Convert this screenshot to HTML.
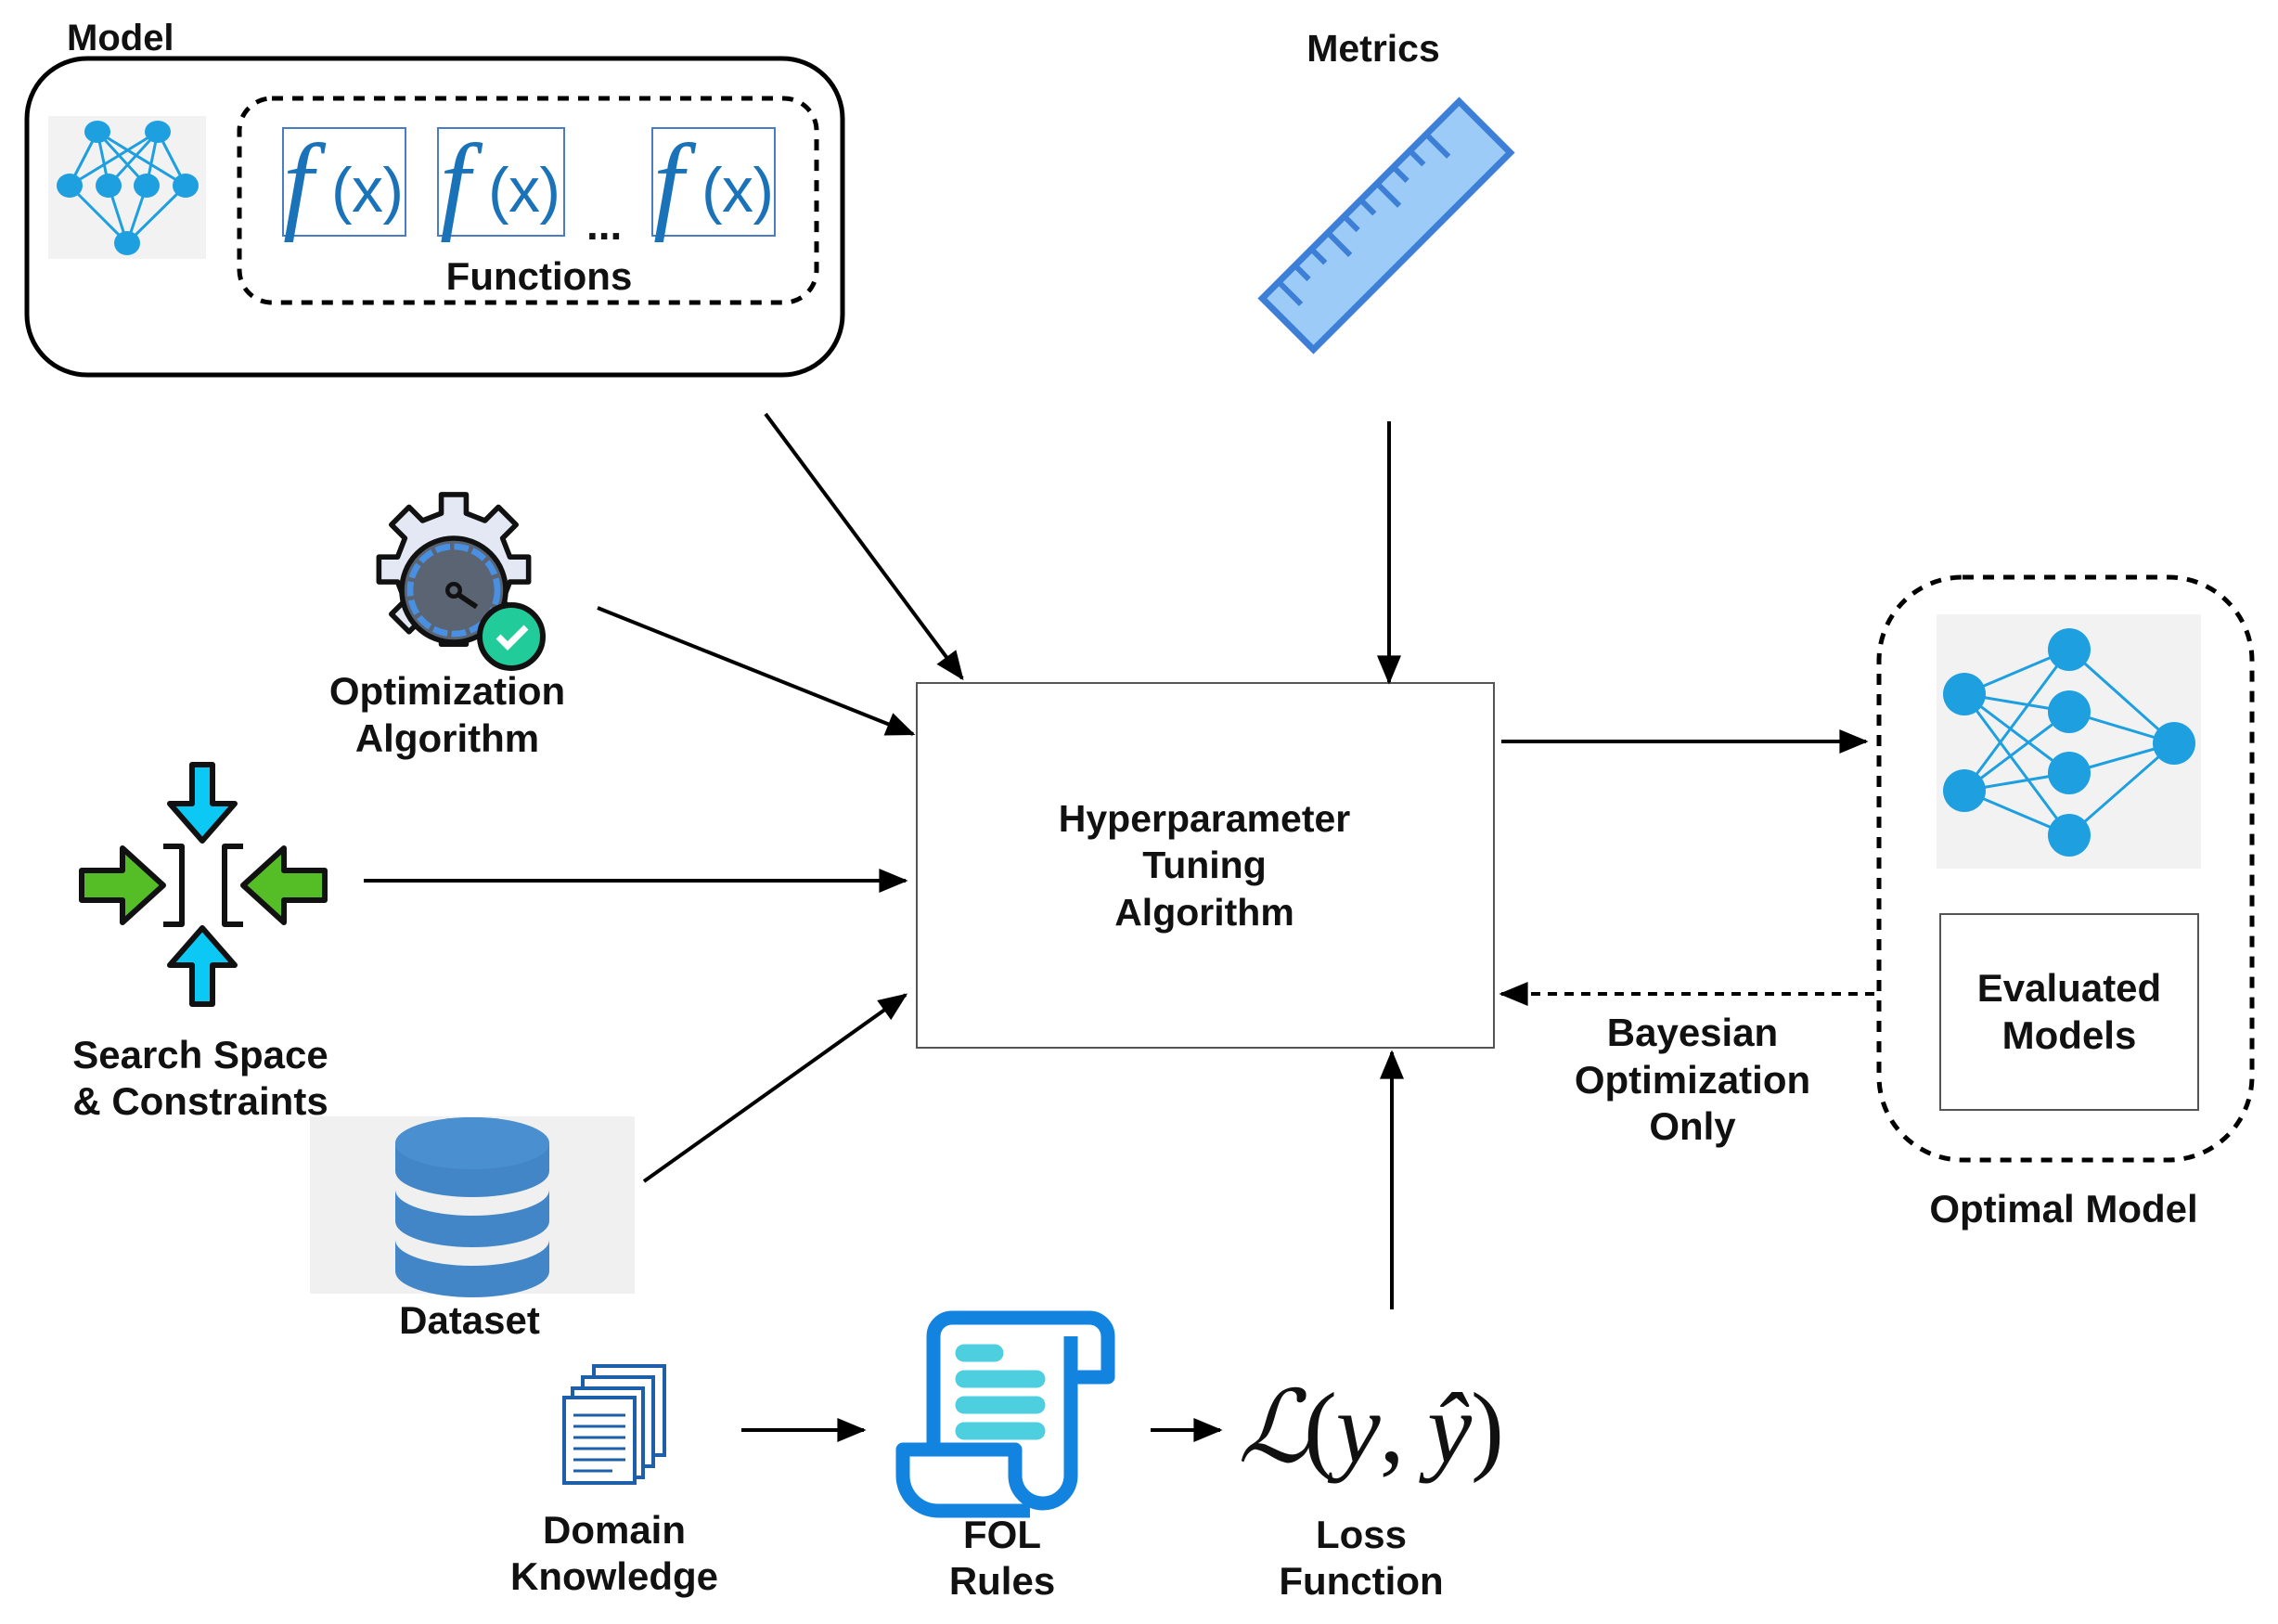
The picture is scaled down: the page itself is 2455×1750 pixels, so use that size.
<!DOCTYPE html>
<html><head><meta charset="utf-8"><style>
html,body{margin:0;padding:0;background:#fff}
svg{display:block}
text{font-family:"Liberation Sans",sans-serif;font-weight:bold;fill:#111}
</style></head><body>
<svg width="2455" height="1750" viewBox="0 0 2455 1750" xmlns="http://www.w3.org/2000/svg">
<defs>
<marker id="a" viewBox="0 0 12 10" refX="11" refY="5" markerWidth="34" markerHeight="26" markerUnits="userSpaceOnUse" orient="auto"><path d="M0,0 L12,5 L0,10 z" fill="#000"/></marker>
</defs>

<text x="72" y="54" font-size="40">Model</text>
<rect x="29" y="63" width="879" height="341" rx="65" fill="none" stroke="#000" stroke-width="5"/>
<rect x="258" y="106" width="622" height="220" rx="35" fill="none" stroke="#000" stroke-width="5" stroke-dasharray="12,10"/>
<rect x="52" y="125" width="170" height="154" fill="#f2f2f2"/>
<g stroke="#1e9fe0" stroke-width="3">
<line x1="105" y1="142" x2="75" y2="200"/><line x1="105" y1="142" x2="117" y2="200"/><line x1="105" y1="142" x2="158" y2="200"/><line x1="105" y1="142" x2="200" y2="200"/>
<line x1="170" y1="142" x2="75" y2="200"/><line x1="170" y1="142" x2="117" y2="200"/><line x1="170" y1="142" x2="158" y2="200"/><line x1="170" y1="142" x2="200" y2="200"/>
<line x1="137" y1="262" x2="75" y2="200"/><line x1="137" y1="262" x2="117" y2="200"/><line x1="137" y1="262" x2="158" y2="200"/><line x1="137" y1="262" x2="200" y2="200"/>
</g>
<g fill="#1e9fe0"><ellipse cx="105" cy="142" rx="14" ry="12"/><ellipse cx="170" cy="142" rx="14" ry="12"/>
<ellipse cx="75" cy="200" rx="14" ry="13"/><ellipse cx="117" cy="200" rx="14" ry="13"/><ellipse cx="158" cy="200" rx="14" ry="13"/><ellipse cx="200" cy="200" rx="14" ry="13"/>
<ellipse cx="137" cy="262" rx="14" ry="13"/></g>
<g fill="#fff" stroke="#4a7cc4" stroke-width="2">
<rect x="305" y="138" width="132" height="116"/><rect x="472" y="138" width="136" height="116"/><rect x="703" y="138" width="132" height="116"/></g>
<g>
<text x="305" y="236" font-size="118" style="fill:#1a72b8;font-weight:normal;font-family:'Liberation Serif',serif;font-style:italic">f</text>
<text x="357" y="228" font-size="68" style="fill:#1a72b8;font-weight:normal;font-family:'Liberation Sans',sans-serif" textLength="78">(x)</text>
<text x="474" y="236" font-size="118" style="fill:#1a72b8;font-weight:normal;font-family:'Liberation Serif',serif;font-style:italic">f</text>
<text x="526" y="228" font-size="68" style="fill:#1a72b8;font-weight:normal;font-family:'Liberation Sans',sans-serif" textLength="78">(x)</text>
<text x="704" y="236" font-size="118" style="fill:#1a72b8;font-weight:normal;font-family:'Liberation Serif',serif;font-style:italic">f</text>
<text x="756" y="228" font-size="68" style="fill:#1a72b8;font-weight:normal;font-family:'Liberation Sans',sans-serif" textLength="78">(x)</text>
</g>
<text x="632" y="258" font-size="46">...</text>
<text x="581" y="312" font-size="42" text-anchor="middle">Functions</text>

<text x="1480" y="66" font-size="41" text-anchor="middle">Metrics</text>
<g transform="translate(1494,243) rotate(-45)">
<rect x="-150" y="-39" width="300" height="78" fill="#9ccbf7" stroke="#3d7fd6" stroke-width="7"/>
<g stroke="#3d7fd6" stroke-width="6">
<line x1="-125" y1="-39" x2="-125" y2="-5"/><line x1="-100" y1="-39" x2="-100" y2="-18"/><line x1="-75" y1="-39" x2="-75" y2="-18"/><line x1="-50" y1="-39" x2="-50" y2="-5"/><line x1="-25" y1="-39" x2="-25" y2="-18"/><line x1="0" y1="-39" x2="0" y2="-18"/><line x1="25" y1="-39" x2="25" y2="-5"/><line x1="50" y1="-39" x2="50" y2="-18"/><line x1="75" y1="-39" x2="75" y2="-18"/><line x1="100" y1="-39" x2="100" y2="-5"/>
</g></g>

<rect x="988" y="736" width="622" height="393" fill="#fff" stroke="#555" stroke-width="2"/>
<text x="1298" y="896" font-size="41" text-anchor="middle">Hyperparameter</text>
<text x="1298" y="946" font-size="41" text-anchor="middle">Tuning</text>
<text x="1298" y="997" font-size="41" text-anchor="middle">Algorithm</text>

<g stroke="#000" stroke-width="4" fill="none" marker-end="url(#a)">
<line x1="825" y1="446" x2="1037" y2="731"/>
<line x1="1497" y1="454" x2="1497" y2="735"/>
<line x1="644" y1="655" x2="984" y2="791"/>
<line x1="392" y1="949" x2="976" y2="949"/>
<line x1="694" y1="1273" x2="976" y2="1072"/>
<line x1="1500" y1="1411" x2="1500" y2="1134"/>
<line x1="1618" y1="799" x2="2011" y2="799"/>
<line x1="2020" y1="1071" x2="1618" y2="1071" stroke-dasharray="10,8"/>
<line x1="799" y1="1541" x2="931" y2="1541"/>
<line x1="1240" y1="1541" x2="1315" y2="1541"/>
</g>

<rect x="2025" y="622" width="402" height="628" rx="90" fill="none" stroke="#000" stroke-width="5" stroke-dasharray="12,10"/>
<rect x="2087" y="662" width="285" height="274" fill="#f2f2f2"/>
<g stroke="#1e9fe0" stroke-width="3">
<line x1="2117" y1="748" x2="2230" y2="700"/><line x1="2117" y1="748" x2="2230" y2="767"/><line x1="2117" y1="748" x2="2230" y2="833"/><line x1="2117" y1="748" x2="2230" y2="900"/>
<line x1="2117" y1="852" x2="2230" y2="700"/><line x1="2117" y1="852" x2="2230" y2="767"/><line x1="2117" y1="852" x2="2230" y2="833"/><line x1="2117" y1="852" x2="2230" y2="900"/>
<line x1="2343" y1="801" x2="2230" y2="700"/><line x1="2343" y1="801" x2="2230" y2="767"/><line x1="2343" y1="801" x2="2230" y2="833"/><line x1="2343" y1="801" x2="2230" y2="900"/>
</g>
<g fill="#1e9fe0"><circle cx="2117" cy="748" r="23"/><circle cx="2117" cy="852" r="23"/><circle cx="2230" cy="700" r="23"/><circle cx="2230" cy="767" r="23"/><circle cx="2230" cy="833" r="23"/><circle cx="2230" cy="900" r="23"/><circle cx="2343" cy="801" r="23"/></g>
<rect x="2091" y="985" width="278" height="211" fill="#fff" stroke="#555" stroke-width="2"/>
<text x="2230" y="1079" font-size="42" text-anchor="middle">Evaluated</text>
<text x="2230" y="1130" font-size="42" text-anchor="middle">Models</text>
<text x="2224" y="1317" font-size="42" text-anchor="middle">Optimal Model</text>
<text x="1824" y="1127" font-size="42" text-anchor="middle">Bayesian</text>
<text x="1824" y="1178" font-size="42" text-anchor="middle">Optimization</text>
<text x="1824" y="1228" font-size="42" text-anchor="middle">Only</text>

<g transform="translate(489,636)">
<g transform="scale(1.12)">
<path fill="#e4e8f5" stroke="#111" stroke-width="5" stroke-linejoin="round" d="M-12,-92 h24 v18 l18,7 13,-13 17,17 -13,13 7,18 h18 v24 h-18 l-7,18 13,13 -17,17 -13,-13 -18,7 v18 h-24 v-18 l-18,-7 -13,13 -17,-17 13,-13 -7,-18 h-18 v-24 h18 l7,-18 -13,-13 17,-17 13,13 18,-7 z"/>
<circle r="50" fill="#5a6473" stroke="#111" stroke-width="5"/>
<circle r="42" fill="none" stroke="#4a90e2" stroke-width="6" stroke-dasharray="14,4"/>
<circle r="6" fill="none" stroke="#111" stroke-width="4"/>
<line x1="4" y1="4" x2="22" y2="16" stroke="#111" stroke-width="5"/>
</g>
<circle cx="62" cy="50" r="34" fill="#21cc9a" stroke="#111" stroke-width="6"/>
<path d="M48,50 l10,10 20,-20" fill="none" stroke="#fff" stroke-width="7"/>
</g>
<text x="482" y="759" font-size="42" text-anchor="middle">Optimization</text>
<text x="482" y="810" font-size="42" text-anchor="middle">Algorithm</text>

<g stroke="#111" stroke-width="6" stroke-linejoin="round">
<path d="M207,824 h22 v42 h24 l-35,40 -35,-40 h24 z" fill="#0bc8f5"/>
<path d="M207,1082 h22 v-42 h24 l-35,-40 -35,40 h24 z" fill="#0bc8f5"/>
<path d="M88,938 h44 v-24 l44,40 -44,40 v-24 h-44 z" fill="#55bd25"/>
<path d="M350,938 h-44 v-24 l-44,40 44,40 v-24 h44 z" fill="#55bd25"/>
<path d="M176,912 h20 v84 h-20 M262,912 h-20 v84 h20" fill="none"/>
</g>
<text x="216" y="1151" font-size="42" text-anchor="middle">Search Space</text>
<text x="216" y="1201" font-size="42" text-anchor="middle">&amp; Constraints</text>

<rect x="334" y="1203" width="350" height="191" fill="#f0f0f0"/>
<g fill="#4286c8">
<path d="M426,1232 a83,28 0 0 1 166,0 v30 a83,28 0 0 1 -166,0 z"/>
<path d="M426,1282 a83,28 0 0 0 166,0 v34 a83,28 0 0 1 -166,0 z"/>
<path d="M426,1336 a83,28 0 0 0 166,0 v34 a83,28 0 0 1 -166,0 z"/>
</g>
<ellipse cx="509" cy="1232" rx="83" ry="28" fill="#4a8fd0"/>
<text x="506" y="1437" font-size="42" text-anchor="middle">Dataset</text>

<g stroke="#1d5fa8" stroke-width="4" fill="#fff">
<rect x="640" y="1472" width="76" height="96"/><rect x="628" y="1484" width="76" height="96"/><rect x="617" y="1496" width="76" height="96"/><rect x="608" y="1506" width="76" height="92"/>
</g>
<g stroke="#1d5fa8" stroke-width="3"><line x1="618" y1="1525" x2="674" y2="1525"/><line x1="618" y1="1537" x2="674" y2="1537"/><line x1="618" y1="1549" x2="674" y2="1549"/><line x1="618" y1="1561" x2="674" y2="1561"/><line x1="618" y1="1573" x2="674" y2="1573"/><line x1="618" y1="1585" x2="660" y2="1585"/></g>
<text x="662" y="1663" font-size="42" text-anchor="middle">Domain</text>
<text x="662" y="1713" font-size="42" text-anchor="middle">Knowledge</text>

<g fill="none" stroke="#1383e0" stroke-width="15" stroke-linejoin="round">
<path d="M1006,1562 V1440 a20,20 0 0 1 20,-20 H1174 a20,20 0 0 1 20,20 v44 h-40"/>
<path d="M1154,1440 V1590 a30,30 0 0 1 -60,0 v-28 H973 v28 a38,38 0 0 0 38,38 H1110"/>
</g>
<g stroke="#4ecfe0" stroke-width="19" stroke-linecap="round">
<line x1="1039" y1="1458" x2="1072" y2="1458"/><line x1="1039" y1="1486" x2="1117" y2="1486"/><line x1="1039" y1="1514" x2="1117" y2="1514"/><line x1="1039" y1="1542" x2="1117" y2="1542"/>
</g>
<text x="1080" y="1668" font-size="42" text-anchor="middle">FOL</text>
<text x="1080" y="1718" font-size="42" text-anchor="middle">Rules</text>

<text x="1334" y="1575" font-size="108" style="font-family:'Liberation Serif',serif;font-style:italic;font-weight:normal">ℒ</text>
<text x="1405" y="1575" font-size="108" style="font-family:'Liberation Serif',serif;font-weight:normal" textLength="216">(<tspan font-style="italic">y</tspan>, <tspan font-style="italic">ŷ</tspan>)</text>
<text x="1467" y="1668" font-size="42" text-anchor="middle">Loss</text>
<text x="1467" y="1718" font-size="42" text-anchor="middle">Function</text>
</svg>
</body></html>
